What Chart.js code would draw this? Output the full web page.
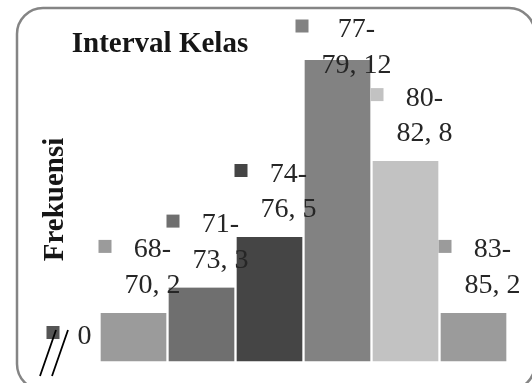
<!DOCTYPE html>
<html>
<head>
<meta charset="utf-8">
<script src="https://cdn.jsdelivr.net/npm/chart.js@4/dist/chart.umd.min.js"></script>
<style>
  html, body { margin: 0; padding: 0; background: #ffffff; }
  #wrap { width: 532px; height: 383px; position: relative; }
</style>
</head>
<body>
<div id="wrap"><canvas id="c" width="532" height="383"></canvas></div>
<script>
// Class intervals and their frequencies (first class is empty)
const categories = ['', '68-70', '71-73', '74-76', '77-79', '80-82', '83-85'];
const frequencies = [0, 2, 3, 5, 12, 8, 2];
const barColors = ['#555555', '#9b9b9b', '#6f6f6f', '#454545', '#828282', '#c2c2c2', '#9b9b9b'];
const chartTitle = 'Interval Kelas';
const axisTitle = 'Frekuensi';

const SERIF = '"Liberation Serif", "Times New Roman", serif';

// Two-line value label: "68-" / "70, 2"
function labelLines(cat, value) {
  if (!cat) return [String(value)];
  const parts = cat.split('-');
  return [parts[0] + '-', parts[1] + ', ' + value];
}

const decorPlugin = {
  id: 'decor',
  beforeDraw(chart) {
    const ctx = chart.ctx;
    ctx.save();
    ctx.fillStyle = '#ffffff';
    ctx.fillRect(0, 0, chart.width, chart.height);
    // rounded frame
    ctx.strokeStyle = '#858585';
    ctx.lineWidth = 2.5;
    ctx.beginPath();
    ctx.roundRect(17, 8, 518, 382, 26);
    ctx.stroke();
    ctx.restore();
  },
  afterDatasetsDraw(chart) {
    const ctx = chart.ctx;
    const meta = chart.getDatasetMeta(0);
    ctx.save();

    // title
    ctx.fillStyle = '#161616';
    ctx.font = 'bold 29px ' + SERIF;
    ctx.textAlign = 'center';
    ctx.textBaseline = 'alphabetic';
    ctx.fillText(chartTitle, 160, 52);

    // vertical axis title
    ctx.save();
    ctx.translate(63, 199.5);
    ctx.rotate(-Math.PI / 2);
    ctx.fillText(axisTitle, 0, 0);
    ctx.restore();

    // value labels with colour keys
    ctx.font = '28px ' + SERIF;
    const lineGap = 35.5;
    meta.data.forEach((bar, i) => {
      const lines = labelLines(categories[i], frequencies[i]);
      const cx = bar.x + 19;
      let last = bar.y - 20;
      let first = last - lineGap * (lines.length - 1);
      if (first < 37) { first = 37; last = first + lineGap * (lines.length - 1); }
      const blockW = Math.max(...lines.map(t => ctx.measureText(t).width));
      const keyRight = cx - blockW / 2 - (lines.length === 1 ? 18 : 13);
      ctx.fillStyle = barColors[i];
      ctx.fillRect(keyRight - 13, first - 17.5, 13, 13);
      ctx.fillStyle = '#262626';
      ctx.textAlign = 'center';
      lines.forEach((t, k) => ctx.fillText(t, cx, first + k * lineGap));
    });

    // axis break marks
    ctx.strokeStyle = '#000000';
    ctx.lineWidth = 1.8;
    ctx.beginPath();
    ctx.moveTo(40, 376); ctx.lineTo(56, 330);
    ctx.moveTo(52, 376); ctx.lineTo(68, 330);
    ctx.stroke();

    ctx.restore();
  }
};

new Chart(document.getElementById('c'), {
  type: 'bar',
  data: {
    labels: categories,
    datasets: [{
      data: frequencies,
      backgroundColor: (c) => c.raw === 0 ? 'rgba(0,0,0,0)' : barColors[c.dataIndex],
      borderColor: (c) => c.raw === 0 ? 'rgba(0,0,0,0)' : '#ffffff',
      borderWidth: (c) => c.raw === 0 ? 0 : { top: 0, left: 1.5, right: 1.5, bottom: 2.5 },
      borderSkipped: false,
      barPercentage: 1,
      categoryPercentage: 1
    }]
  },
  options: {
    responsive: false,
    animation: false,
    devicePixelRatio: 1,
    layout: { padding: { left: 31.5, right: 24.5, top: 9.3, bottom: 19.5 } },
    plugins: { legend: { display: false }, tooltip: { enabled: false }, title: { display: false } },
    scales: {
      x: { display: false },
      y: { display: false, min: 0, max: 14 }
    }
  },
  plugins: [decorPlugin]
});
</script>
</body>
</html>
